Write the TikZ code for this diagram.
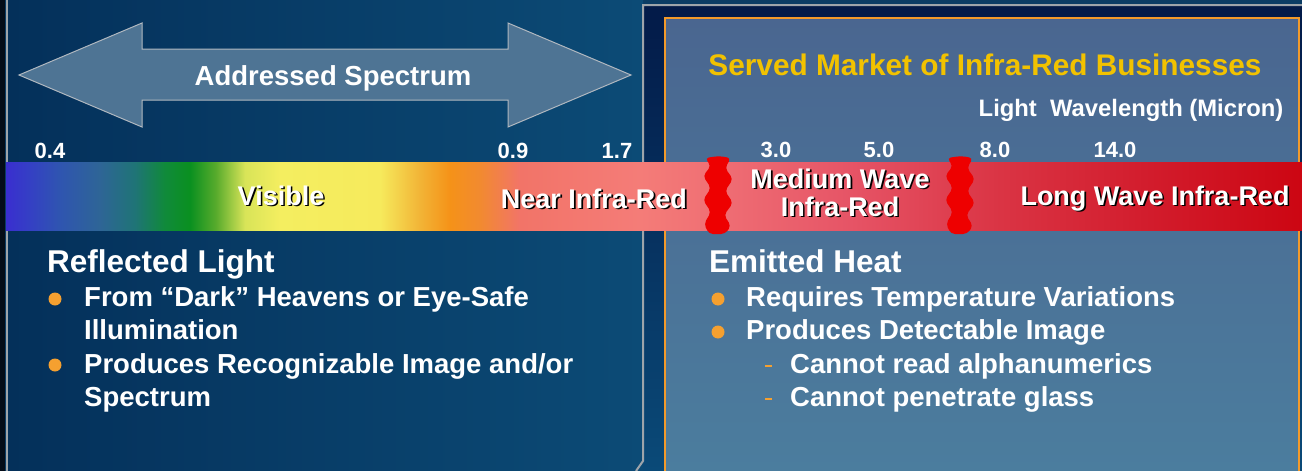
\documentclass[tikz,border=0pt]{standalone}
\usepackage{fontspec}
\setmainfont{Liberation Sans}
\usepackage{tikz}
\usetikzlibrary{shapes,calc,backgrounds,positioning}

% panel colours
\definecolor{navy}{HTML}{0B3C64}
\definecolor{inkblack}{HTML}{040C18}
\definecolor{leftA}{HTML}{04305A}
\definecolor{leftB}{HTML}{0C4B76}
\definecolor{frameTop}{HTML}{031A48}
\definecolor{frameBot}{HTML}{0A4A78}
\definecolor{panelTop}{HTML}{4A6690}
\definecolor{panelBot}{HTML}{4B7D9E}
\definecolor{rim}{HTML}{9EA4AA}
\definecolor{rimorange}{HTML}{F39A2A}
\definecolor{bullet}{HTML}{F5A030}
\definecolor{titlegold}{HTML}{F2C200}
\definecolor{arrowfill}{HTML}{4E7494}
\definecolor{arrowrim}{HTML}{B0B8C0}
\definecolor{tearred}{HTML}{EE0000}

% spectrum stops
\definecolor{spA}{HTML}{3A2ED0}
\definecolor{spB}{HTML}{3440C4}
\definecolor{spC}{HTML}{2F55B0}
\definecolor{spD}{HTML}{2E6596}
\definecolor{spE}{HTML}{1F7476}
\definecolor{spF}{HTML}{108A3A}
\definecolor{spG}{HTML}{0A9020}
\definecolor{spH}{HTML}{58AB2C}
\definecolor{spI}{HTML}{D8E458}
\definecolor{spJ}{HTML}{F4EE60}
\definecolor{spK}{HTML}{F6EA5C}
\definecolor{spL}{HTML}{F2B436}
\definecolor{spM}{HTML}{F59218}
\definecolor{spN}{HTML}{F28A30}
\definecolor{spO}{HTML}{F27468}
\definecolor{spP}{HTML}{F47C78}
\definecolor{spQ}{HTML}{EF6E74}
\definecolor{spR}{HTML}{E65466}
\definecolor{spS}{HTML}{DA3444}
\definecolor{spT}{HTML}{D21C2C}
\definecolor{spU}{HTML}{CC0612}

\pgfdeclarehorizontalshading{spectrum}{100bp}{color(0bp)=(spA); color(25bp)=(spA);
  color(25.93bp)=(spB); color(27.08bp)=(spC); color(28.63bp)=(spD); color(29.98bp)=(spE);
  color(31.13bp)=(spF); color(32.1bp)=(spG); color(33.1bp)=(spH); color(34.22bp)=(spI);
  color(35.57bp)=(spJ); color(39.43bp)=(spK); color(40.97bp)=(spL); color(42.13bp)=(spM);
  color(43.29bp)=(spN); color(44.83bp)=(spO); color(49.46bp)=(spP); color(52.55bp)=(spQ);
  color(57.56bp)=(spR); color(63.35bp)=(spS); color(69.14bp)=(spT); color(75bp)=(spU);
  color(100bp)=(spU)}

\newcommand{\dropsh}[1]{\makebox[0pt][l]{\kern1.6pt\raisebox{-1.6pt}{\textcolor{black}{#1}}}#1}

\begin{document}
\begin{tikzpicture}[x=1pt, y=-1pt]
        \tikzstyle{body} = [anchor=base west, text=white, inner sep=0pt, font=\fontsize{27.5}{33}\selectfont\bfseries]
        \tikzstyle{head} = [body, font=\fontsize{31.5}{36}\selectfont\bfseries]
        \tikzstyle{num} = [anchor=base, text=white, inner sep=0pt, font=\fontsize{22}{26}\selectfont\bfseries]
        \tikzstyle{band} = [anchor=base, text=white, inner sep=0pt, font=\fontsize{27}{29}\selectfont\bfseries]
        \tikzstyle{dot} = [circle, fill=bullet, minimum size=13pt, inner sep=0pt]
        \tikzstyle{tear} = [fill=tearred, rounded corners=4pt]
        \useasboundingbox (0,0) rectangle (1302,471);

        % panels
        \fill [navy] (0,0) rectangle (1302,471);
        \fill [inkblack] (0,0) rectangle (5,471);
        \fill [left color=leftA, right color=leftB] (7,0) rectangle (643,471);
        \fill [top color=frameTop, bottom color=frameBot] (643,5) rectangle (1302,471);
        \fill [top color=panelTop, bottom color=panelBot] (665,18) rectangle (1299,471);
        \draw [rim, line width=2pt] (6.5,0) -- (6.5,471);
        \draw [rim, line width=2pt] (636,471) -- (643,461) -- (643,5) -- (1302,5);
        \draw [rimorange, line width=2.5pt] (665,471) -- (665,18) -- (1299,18) -- (1299,471);

        % double arrow
        \draw [fill=arrowfill, draw=arrowrim, line width=1pt] (19,75) -- (142,23) -- (142,49) -- (508,49) -- (508,23)
            -- (631,75) -- (508,127) -- (508,100) -- (142,100) -- (142,127) -- cycle;
        \node [anchor=base, text=white, inner sep=0pt, font=\fontsize{27.5}{33}\selectfont\bfseries, name=addressed] at (333,85) {Addressed Spectrum};

        % wavelength scale
        \node [num, name=wlA] at (50,158) {0.4};
        \node [num, name=wlB] at (513,158) {0.9};
        \node [num, name=wlC] at (617,158) {1.7};
        \node [num, name=wlD] at (776,157) {3.0};
        \node [num, name=wlE] at (879,157) {5.0};
        \node [num, name=wlF] at (995,157) {8.0};
        \node [num, name=wlG] at (1115,157) {14.0};
        \node [anchor=base, text=titlegold, inner sep=0pt, font=\fontsize{29.8}{34}\selectfont\bfseries, name=served] at (985,75) {Served Market of Infra-Red Businesses};
        \node [anchor=base, text=white, inner sep=0pt, font=\fontsize{23.8}{28}\selectfont\bfseries, name=unit] at (1131,116) {Light\ \ Wavelength (Micron)};

        % spectrum bar
        \shade [shading=spectrum] (6,162) rectangle (1302,230);
        \foreach \c in {719,961} {
            \fill [tear] (\c-14,158) -- (\c-8,166) -- (\c-16,176) -- (\c-8,188) -- (\c-16,200) -- (\c-8,212)
                -- (\c-15,224) -- (\c-10,234) -- (\c+6,234) -- (\c+12,226) -- (\c+5,215) -- (\c+14,203)
                -- (\c+6,191) -- (\c+14,179) -- (\c+6,168) -- (\c+12,158) -- (\c,156) -- cycle;
        }
        \node [band, name=visible] at (281,205) {\dropsh{Visible}};
        \node [band, name=nearir] at (594,208) {\dropsh{Near Infra-Red}};
        \node [band, name=midir] at (840,188) {\dropsh{Medium Wave}};
        \node [band, name=midirB] at (840,216) {\dropsh{Infra-Red}};
        \node [band, name=longir] at (1155,205) {\dropsh{Long Wave Infra-Red}};

        % reflected light
        \node [head, name=reflected] at (47,272) {Reflected Light};
        \node [dot, name=dotA] at (55,299) {};
        \node [body, name=dark] at (84,306) {From “Dark” Heavens or Eye-Safe};
        \node [body, name=illum] at (84,339.5) {Illumination};
        \node [dot, name=dotB] at (55,365) {};
        \node [body, name=recog] at (84,373) {Produces Recognizable Image and/or};
        \node [body, name=spectrum] at (84,406) {Spectrum};

        % emitted heat
        \node [head, name=emitted] at (709,272) {Emitted Heat};
        \node [dot, name=dotC] at (718,299) {};
        \node [body, name=temp] at (746,306) {Requires Temperature Variations};
        \node [dot, name=dotD] at (718,332) {};
        \node [body, name=detect] at (746,339.5) {Produces Detectable Image};
        \node [body, name=alpha] at (790,373) {Cannot read alphanumerics};
        \node [body, name=glass] at (790,406) {Cannot penetrate glass};
        \draw [bullet, line width=2.5pt] (765,366) -- (772,366);
        \draw [bullet, line width=2.5pt] (765,399) -- (772,399);
\end{tikzpicture}
\end{document}
